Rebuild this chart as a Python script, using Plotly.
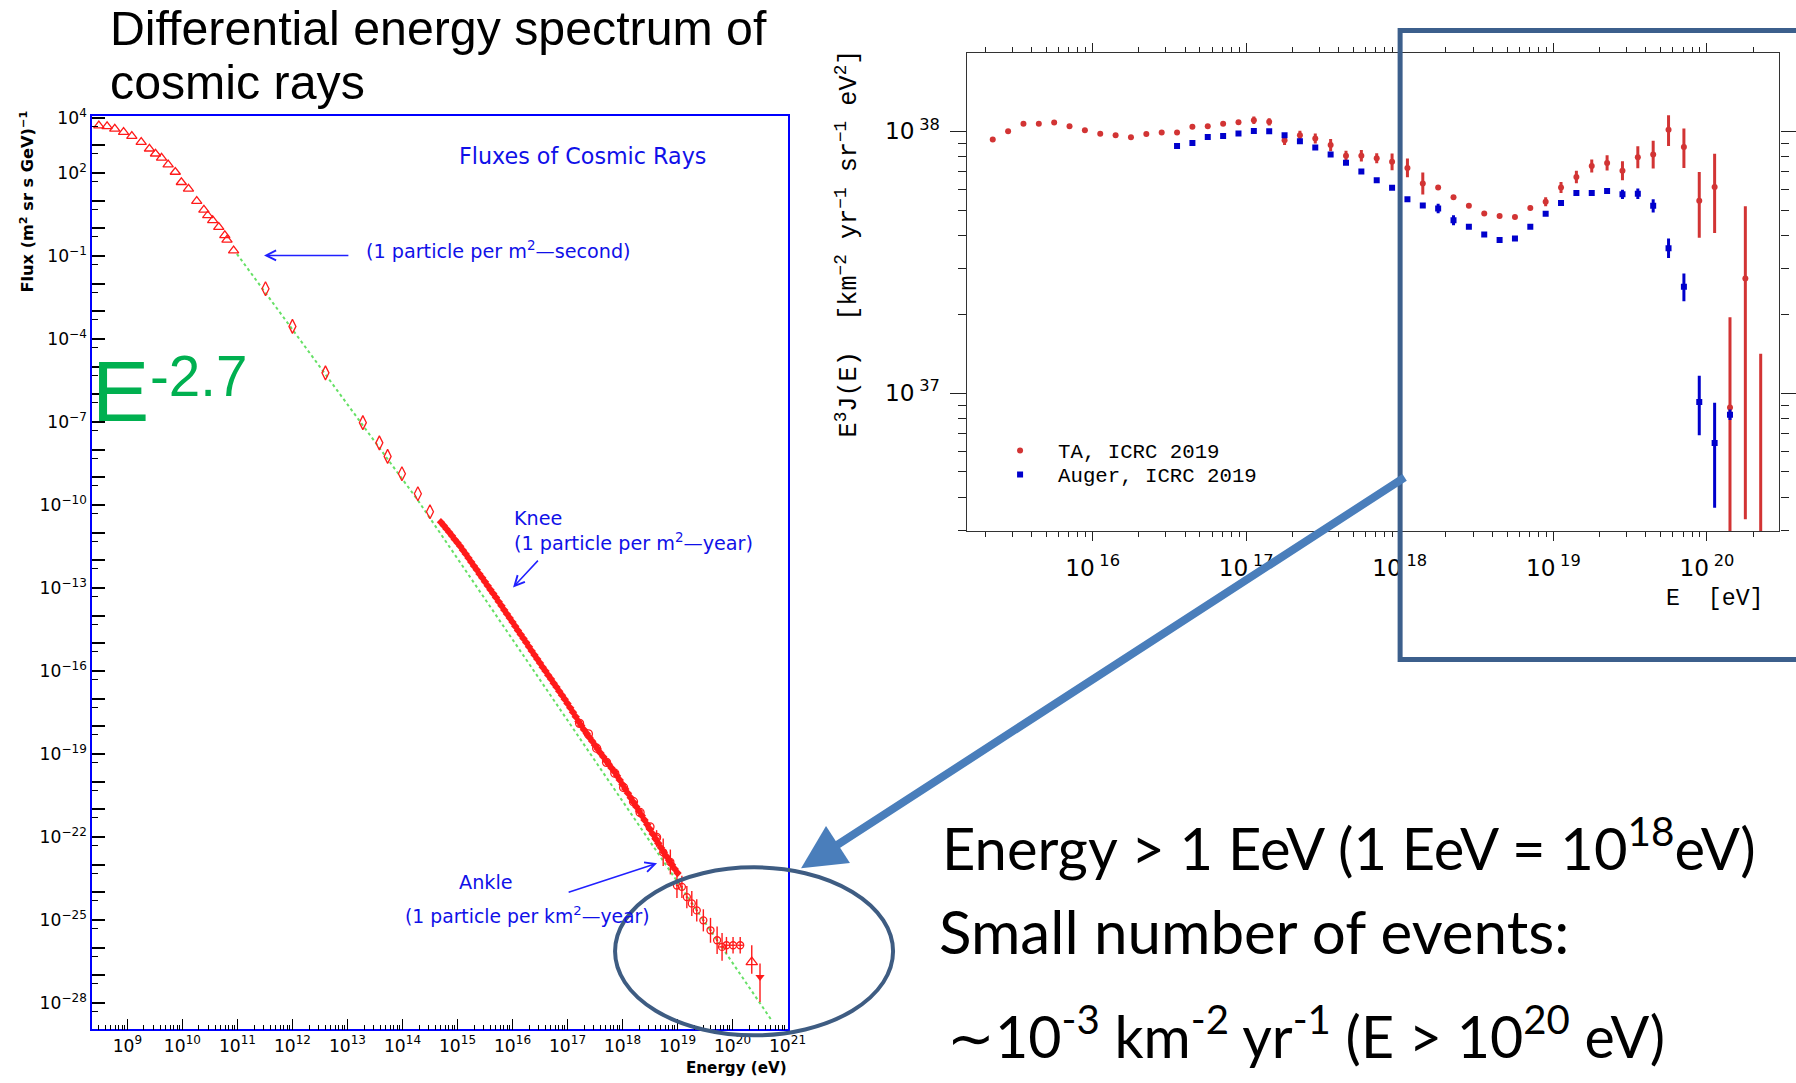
import math
import plotly.graph_objects as go

# figure canvas; the page is photographed slightly scaled (S) and shifted down (OY),
# so target pixel positions are mapped through that to paper coordinates.
FW, FH = 1814, 1083
S, OY = 0.99, 10.5

# ---------------- LEFT CHART DATA (log10 E [eV], log10 flux) ----------------
tri_logE = [8.48, 8.63, 8.77, 8.93, 9.08, 9.25, 9.40, 9.51, 9.62, 9.74, 9.87,
            9.98, 10.11, 10.26, 10.39, 10.46, 10.55, 10.66, 10.77, 10.81, 10.93]
tri_logF = [3.72, 3.69, 3.60, 3.48, 3.34, 3.12, 2.88, 2.70, 2.55, 2.31, 2.04,
            1.67, 1.43, 0.99, 0.67, 0.47, 0.29, 0.05, -0.25, -0.41, -0.80]

dia_logE = [11.51, 12.00, 12.60, 13.28, 13.58, 13.73, 13.99, 14.28, 14.50]
dia_logF = [-2.18, -3.54, -5.22, -7.02, -7.75, -8.24, -8.87, -9.59, -10.24]

trk_logE = [14.70, 14.75, 14.80, 14.85, 14.90, 14.95, 15.00, 15.05, 15.10, 15.15,
            15.20, 15.25, 15.30, 15.35, 15.40, 15.45, 15.50, 15.55, 15.60, 15.65,
            15.70, 15.75, 15.80, 15.85, 15.90, 15.95, 16.00, 16.05, 16.10, 16.15,
            16.20, 16.25, 16.30, 16.35, 16.40, 16.45, 16.50, 16.55, 16.60, 16.65,
            16.70, 16.75, 16.80, 16.85, 16.90, 16.95, 17.00, 17.05, 17.10, 17.15,
            17.20, 17.25, 17.30, 17.35, 17.40, 17.45, 17.50, 17.55, 17.60, 17.65,
            17.70, 17.75, 17.80, 17.85, 17.90, 17.95, 18.00, 18.05, 18.10, 18.15,
            18.20, 18.25, 18.30, 18.35, 18.40, 18.45, 18.50, 18.55, 18.60, 18.65,
            18.70, 18.75, 18.80, 18.85, 18.90, 18.95, 19.00]
trk_logF = [-10.62, -10.74, -10.86, -10.98, -11.11, -11.24, -11.36, -11.49, -11.63, -11.77,
            -11.91, -12.06, -12.20, -12.34, -12.49, -12.63, -12.77, -12.92, -13.06, -13.20,
            -13.34, -13.49, -13.64, -13.79, -13.94, -14.08, -14.23, -14.38, -14.53, -14.68,
            -14.82, -14.97, -15.12, -15.27, -15.42, -15.56, -15.71, -15.86, -16.00, -16.15,
            -16.29, -16.44, -16.58, -16.73, -16.87, -17.02, -17.17, -17.33, -17.49, -17.65,
            -17.82, -17.97, -18.12, -18.26, -18.40, -18.54, -18.68, -18.82, -18.96, -19.10,
            -19.24, -19.37, -19.50, -19.63, -19.78, -19.94, -20.10, -20.26, -20.42, -20.58,
            -20.74, -20.90, -21.06, -21.22, -21.38, -21.55, -21.72, -21.89, -22.06, -22.22,
            -22.39, -22.55, -22.70, -22.85, -23.00, -23.15, -23.30]

oc_logE = [17.22, 17.38, 17.53, 17.71, 17.86, 18.02, 18.20, 18.32, 18.50, 18.62]
oc_logF = [-17.89, -18.27, -18.79, -19.30, -19.69, -20.21, -20.72, -21.11, -21.63, -22.01]

hi_logE = [18.62, 18.74, 18.87, 18.99, 19.08, 19.17, 19.26, 19.35, 19.47, 19.60,
           19.72, 19.81, 19.89, 20.01, 20.14]
hi_logF = [-22.05, -22.55, -22.90, -23.75, -23.80, -24.17, -24.40, -24.65, -25.01, -25.37,
           -25.73, -25.97, -25.91, -25.91, -25.91]
hi_err = [0.30, 0.50, 0.45, 0.45, 0.40, 0.40, 0.45, 0.40, 0.40, 0.45,
          0.50, 0.50, 0.30, 0.30, 0.30]
hi_xerr = [0.02, 0.02, 0.02, 0.02, 0.02, 0.02, 0.02, 0.02, 0.02, 0.02,
           0.02, 0.05, 0.05, 0.05, 0.05]

ot_logE = [20.35]
ot_logF = [-26.52]
ot_up, ot_dn = [0.61], [0.42]
ft_logE = [20.50]
ft_logF = [-27.06]
ft_up, ft_dn = [0.49], [0.90]

fit_logE = [10.99, 14.26, 20.71]
fit_logF = [-0.92, -9.77, -28.62]

x_ticks_left = list(range(9, 22))
y_ticks_left = list(range(-28, 5))
y_labels_left = [4, 2, -1, -4, -7, -10, -13, -16, -19, -22, -25, -28]

# ---------------- RIGHT CHART DATA (log10 E [eV], log10 E^3 J) ----------------
ta_logE = [15.35, 15.45, 15.55, 15.65, 15.75, 15.85, 15.95, 16.05, 16.15, 16.25,
           16.35, 16.45, 16.55, 16.65, 16.75, 16.85, 16.95, 17.05, 17.15, 17.25,
           17.35, 17.45, 17.55, 17.65, 17.75, 17.85, 17.95, 18.05, 18.15, 18.25,
           18.35, 18.45, 18.55, 18.65, 18.75, 18.85, 18.95, 19.05, 19.15, 19.25,
           19.35, 19.45, 19.55, 19.65, 19.75, 19.85, 19.95, 20.05, 20.15, 20.25, 20.35]
ta_logY = [37.968, 38.000, 38.029, 38.029, 38.033, 38.019, 38.004, 37.990, 37.985, 37.977,
           37.989, 37.995, 37.995, 38.017, 38.019, 38.029, 38.034, 38.042, 38.036, 37.966,
           37.985, 37.972, 37.947, 37.906, 37.906, 37.897, 37.883, 37.860, 37.800, 37.785,
           37.748, 37.715, 37.686, 37.676, 37.672, 37.707, 37.731, 37.785, 37.825, 37.867,
           37.879, 37.849, 37.901, 37.911, 38.006, 37.940, 37.735, 37.787, 36.945, 37.438, 36.40]
ta_up = [0, 0, 0, 0, 0, 0, 0, 0, 0, 0,
         0, 0, 0, 0, 0, 0, 0, 0.014, 0.014, 0.019,
         0.017, 0.019, 0.023, 0.019, 0.022, 0.019, 0.032, 0.036, 0.042, 0.008,
         0.006, 0.006, 0.006, 0.006, 0.006, 0.008, 0.017, 0.021, 0.024, 0.025,
         0.029, 0.036, 0.042, 0.053, 0.055, 0.070, 0.109, 0.127, 0.345, 0.276, 0.750]
ta_dn = [0, 0, 0, 0, 0, 0, 0, 0, 0, 0,
         0, 0, 0, 0, 0, 0, 0, 0.014, 0.014, 0.019,
         0.017, 0.019, 0.023, 0.019, 0.022, 0.019, 0.032, 0.036, 0.042, 0.008,
         0.006, 0.006, 0.006, 0.006, 0.006, 0.008, 0.017, 0.021, 0.024, 0.025,
         0.029, 0.036, 0.042, 0.053, 0.062, 0.080, 0.142, 0.176, 0.600, 0.920, 0.100]

au_logE = [16.55, 16.65, 16.75, 16.85, 16.95, 17.05, 17.15, 17.25, 17.35, 17.45,
           17.55, 17.65, 17.75, 17.85, 17.95, 18.05, 18.15, 18.25, 18.35, 18.45,
           18.55, 18.65, 18.75, 18.85, 18.95, 19.05, 19.15, 19.25, 19.35, 19.45,
           19.55, 19.65, 19.75, 19.85, 19.95, 20.05, 20.15]
au_logY = [37.944, 37.955, 37.978, 37.982, 37.991, 38.001, 38.000, 37.985, 37.962, 37.938,
           37.911, 37.880, 37.846, 37.813, 37.784, 37.740, 37.716, 37.705, 37.660, 37.635,
           37.606, 37.585, 37.590, 37.635, 37.685, 37.726, 37.764, 37.764, 37.772, 37.759,
           37.761, 37.715, 37.553, 37.406, 36.966, 36.809, 36.917]
au_up = [0, 0, 0, 0, 0, 0, 0, 0, 0, 0,
         0, 0, 0, 0, 0, 0, 0, 0.018, 0.019, 0.008,
         0.008, 0.008, 0.008, 0.008, 0.008, 0.008, 0.008, 0.008, 0.008, 0.018,
         0.020, 0.025, 0.037, 0.051, 0.100, 0.154, 0.020]
au_dn = [0, 0, 0, 0, 0, 0, 0, 0, 0, 0,
         0, 0, 0, 0, 0, 0, 0, 0.018, 0.019, 0.008,
         0.008, 0.008, 0.008, 0.008, 0.008, 0.008, 0.008, 0.008, 0.008, 0.018,
         0.020, 0.025, 0.037, 0.055, 0.127, 0.247, 0.020]

x_ticks_right = [16, 17, 18, 19, 20]
y_ticks_right = [37, 38]


def lin(v):
    return [10.0 ** a for a in v]


def err_up(v, e):
    return [10.0 ** (a + b) - 10.0 ** a for a, b in zip(v, e)]


def err_dn(v, e):
    return [10.0 ** a - 10.0 ** (a - b) for a, b in zip(v, e)]


def px(x):
    return min(x / S / FW, 1.0)


def py(y):
    return 1 - (y - OY) / S / FH


def fs(size):
    return size / S


RED = "#ff1a1a"
BLUE_TXT = "#1010e8"

fig = go.Figure()

# ---- left chart traces ----
fig.add_trace(go.Scatter(x=lin(fit_logE), y=lin(fit_logF), mode="lines",
                         line=dict(color="#66e066", width=2, dash="dot"),
                         showlegend=False, xaxis="x", yaxis="y"))
fig.add_trace(go.Scatter(x=lin(tri_logE), y=lin(tri_logF), mode="markers",
                         marker=dict(symbol="triangle-up-open", size=9, color=RED,
                                     line=dict(width=1.3, color=RED)),
                         showlegend=False, xaxis="x", yaxis="y"))
fig.add_trace(go.Scatter(x=lin(dia_logE), y=lin(dia_logF), mode="markers",
                         marker=dict(symbol="diamond-tall-open", size=10, color=RED,
                                     line=dict(width=1.3, color=RED)),
                         showlegend=False, xaxis="x", yaxis="y"))
fig.add_trace(go.Scatter(x=lin(trk_logE), y=lin(trk_logF), mode="markers",
                         marker=dict(symbol="diamond", size=6.5, color=RED),
                         showlegend=False, xaxis="x", yaxis="y"))
fig.add_trace(go.Scatter(x=lin(oc_logE), y=lin(oc_logF), mode="markers",
                         marker=dict(symbol="circle-open", size=8, color=RED,
                                     line=dict(width=1.3, color=RED)),
                         showlegend=False, xaxis="x", yaxis="y"))
fig.add_trace(go.Scatter(x=lin(hi_logE), y=lin(hi_logF), mode="markers",
                         marker=dict(symbol="circle-open", size=7, color=RED,
                                     line=dict(width=1.3, color=RED)),
                         error_y=dict(type="data", array=err_up(hi_logF, hi_err),
                                      arrayminus=err_dn(hi_logF, hi_err),
                                      color=RED, thickness=1.4, width=0),
                         error_x=dict(type="data", array=err_up(hi_logE, hi_xerr),
                                      arrayminus=err_dn(hi_logE, hi_xerr),
                                      color=RED, thickness=1.4, width=0),
                         showlegend=False, xaxis="x", yaxis="y"))
fig.add_trace(go.Scatter(x=lin(ot_logE), y=lin(ot_logF), mode="markers",
                         marker=dict(symbol="triangle-up-open", size=10, color=RED,
                                     line=dict(width=1.3, color=RED)),
                         error_y=dict(type="data", array=err_up(ot_logF, ot_up),
                                      arrayminus=err_dn(ot_logF, ot_dn),
                                      color=RED, thickness=1.4, width=0),
                         showlegend=False, xaxis="x", yaxis="y"))
fig.add_trace(go.Scatter(x=lin(ft_logE), y=lin(ft_logF), mode="markers",
                         marker=dict(symbol="triangle-down", size=8, color=RED),
                         error_y=dict(type="data", array=err_up(ft_logF, ft_up),
                                      arrayminus=err_dn(ft_logF, ft_dn),
                                      color=RED, thickness=1.4, width=0),
                         showlegend=False, xaxis="x", yaxis="y"))

# ---- right chart traces ----
TA_C = "#d23434"
AU_C = "#0000cc"
fig.add_trace(go.Scatter(x=lin(ta_logE), y=lin(ta_logY), mode="markers", name="TA, ICRC 2019",
                         marker=dict(symbol="circle", size=6, color=TA_C),
                         error_y=dict(type="data", array=err_up(ta_logY, ta_up),
                                      arrayminus=err_dn(ta_logY, ta_dn),
                                      color=TA_C, thickness=3, width=0),
                         xaxis="x2", yaxis="y2", legend="legend"))
fig.add_trace(go.Scatter(x=lin(au_logE), y=lin(au_logY), mode="markers", name="Auger, ICRC 2019",
                         marker=dict(symbol="square", size=6, color=AU_C),
                         error_y=dict(type="data", array=err_up(au_logY, au_up),
                                      arrayminus=err_dn(au_logY, au_dn),
                                      color=AU_C, thickness=3, width=0),
                         xaxis="x2", yaxis="y2", legend="legend2"))

# ---- axes ----
minor_left_x = [m * 10.0 ** d for d in range(8, 21) for m in range(2, 10)
                if 8.356 < d + math.log10(m) < 21.01]
minor_left_y = [5 * 10.0 ** d for d in range(-29, 4)]
minor_right_x = [m * 10.0 ** d for d in range(15, 21) for m in range(2, 10)
                 if 15.181 < d + math.log10(m) < 20.472]
minor_right_y = [m * 10.0 ** d for d in range(36, 39) for m in range(2, 10)
                 if 36.473 < d + math.log10(m) < 38.298]

tickfont_l = dict(family="DejaVu Sans", size=fs(17), color="black")
tickfont_r = dict(family="DejaVu Sans", size=fs(23), color="black")
legfont = dict(family="Liberation Mono", size=fs(20.5), color="black")

fig.update_layout(
    width=FW, height=FH, autosize=False,
    margin=dict(l=0, r=0, t=0, b=0, pad=0),
    paper_bgcolor="white", plot_bgcolor="white",
    xaxis=dict(type="log", range=[8.356, 21.01], domain=[px(92), px(788)], anchor="y",
               tickvals=[10.0 ** k for k in x_ticks_left],
               ticktext=["10<sup>%d</sup>" % k for k in x_ticks_left],
               ticks="inside", ticklen=11, tickwidth=1.3, tickcolor="black",
               minor=dict(tickvals=minor_left_x, ticks="inside", ticklen=5,
                          tickwidth=1, tickcolor="black", showgrid=False),
               showline=True, linecolor="#0000ff", linewidth=1.5, mirror=True,
               showgrid=False, zeroline=False, tickfont=tickfont_l),
    yaxis=dict(type="log", range=[-28.95, 4.058], domain=[py(1029), py(115.7)], anchor="x",
               tickvals=[10.0 ** k for k in y_ticks_left],
               ticktext=[("10<sup>%s</sup>" % str(k).replace("-", "\u2212")) if k in y_labels_left else ""
                         for k in y_ticks_left],
               ticks="inside", ticklen=13, tickwidth=1.5, tickcolor="black",
               minor=dict(tickvals=minor_left_y, ticks="inside", ticklen=6,
                          tickwidth=1.3, tickcolor="black", showgrid=False),
               showline=True, linecolor="#0000ff", linewidth=1.5, mirror=True,
               showgrid=False, zeroline=False, tickfont=tickfont_l),
    xaxis2=dict(type="log", range=[15.181, 20.472], domain=[px(966.7), px(1779.3)], anchor="y2",
                tickvals=[10.0 ** k for k in x_ticks_right],
                ticktext=["10\u2009<sup>%d</sup>" % k for k in x_ticks_right],
                ticks="outside", ticklen=9, tickwidth=1.3, tickcolor="#222",
                minor=dict(tickvals=minor_right_x, ticks="outside", ticklen=5,
                           tickwidth=1.2, tickcolor="#222", showgrid=False),
                showline=True, linecolor="#333", linewidth=1.3, mirror="ticks",
                showgrid=False, zeroline=False, tickfont=tickfont_r, ticklabelstandoff=7),
    yaxis2=dict(type="log", range=[36.473, 38.298], domain=[py(530.7), py(52.7)], anchor="x2",
                tickvals=[10.0 ** k for k in y_ticks_right],
                ticktext=["10\u2009<sup>%d</sup>" % k for k in y_ticks_right],
                ticks="outside", ticklen=16, tickwidth=1.3, tickcolor="#222",
                minor=dict(tickvals=minor_right_y, ticks="outside", ticklen=8,
                           tickwidth=1.2, tickcolor="#222", showgrid=False),
                showline=True, linecolor="#333", linewidth=1.3, mirror="ticks",
                showgrid=False, zeroline=False, tickfont=tickfont_r, ticklabelstandoff=5),
    legend=dict(x=px(982), y=py(430), xanchor="left", yanchor="top", font=legfont,
                itemwidth=66, bgcolor="rgba(0,0,0,0)", borderwidth=0),
    legend2=dict(x=px(982), y=py(454), xanchor="left", yanchor="top", font=legfont,
                 itemwidth=66, bgcolor="rgba(0,0,0,0)", borderwidth=0),
    showlegend=True,
)

ann = []


def txt(x, y, text, size, family, color="black", xanchor="left", yanchor="middle", angle=0):
    ann.append(dict(x=px(x), y=py(y), xref="paper", yref="paper", text=text, showarrow=False,
                    xanchor=xanchor, yanchor=yanchor, textangle=angle,
                    font=dict(family=family, size=fs(size), color=color)))


def arrow(tipx, tipy, tailx, taily, color, width, head, size):
    ann.append(dict(x=px(tipx), y=py(tipy), xref="paper", yref="paper", text="",
                    showarrow=True, ax=(tailx - tipx) / S, ay=(taily - tipy) / S,
                    arrowcolor=color, arrowwidth=width, arrowhead=head, arrowsize=size,
                    standoff=0, startstandoff=0))


# title
txt(108, 28, "Differential energy spectrum of", 47.8, "Liberation Sans")
txt(108, 82, "cosmic rays", 47.8, "Liberation Sans")
# left chart texts
txt(582, 156, "Fluxes of Cosmic Rays", 22, "DejaVu Sans", BLUE_TXT, xanchor="center")
txt(364, 250, "(1 particle per m<sup>2</sup>\u2014second)", 19, "DejaVu Sans", BLUE_TXT)
txt(512, 518, "Knee", 19, "DejaVu Sans", BLUE_TXT)
txt(512, 542, "(1 particle per m<sup>2</sup>\u2014year)", 19, "DejaVu Sans", BLUE_TXT)
txt(457, 882, "Ankle", 19, "DejaVu Sans", BLUE_TXT)
txt(403, 915, "(1 particle per km<sup>2</sup>\u2014year)", 18.6, "DejaVu Sans", BLUE_TXT)
txt(90, 391, "E", 85, "Liberation Sans", "#00b050")
txt(148, 376, "-2.7", 56, "Liberation Sans", "#00b050")
txt(27, 201, "<b>Flux (m<sup>2</sup> sr s GeV)<sup>\u22121</sup></b>", 16, "DejaVu Sans",
    xanchor="center", angle=-90)
txt(736, 1068, "<b>Energy (eV)</b>", 15, "DejaVu Sans", xanchor="center")
# right chart texts
txt(848, 243, "E<sup>3</sup>J(E)\u00a0\u00a0[km<sup>\u22122</sup>\u00a0yr<sup>\u22121</sup>\u00a0sr<sup>\u22121</sup>\u00a0eV<sup>2</sup>]",
    25, "Liberation Mono", xanchor="center", angle=-90)
txt(1766, 599, "E\u00a0\u00a0[eV]", 23, "Liberation Mono", xanchor="right")
# text block
txt(940, 844, "Energy > 1 EeV (1 EeV = 10<sup>18</sup>eV)", 57.3, "Lato")
txt(937, 931, "Small number of events:", 59.5, "Lato")
txt(945, 1032, "\u223c10<sup>-3</sup> km<sup>-2</sup> yr<sup>-1</sup> (E > 10<sup>20</sup> eV)", 56.8, "Lato")

# arrows
arrow(264, 255, 349, 255, "#2020ff", 1.5, 5, 1.3)
arrow(513, 587, 539, 559, "#2020ff", 1.5, 5, 1.3)
arrow(657, 863, 568, 892, "#2020ff", 1.5, 5, 1.3)
arrow(801, 868, 1400, 480, "#4a7ebb", 8, 2, 1.1)

fig.update_layout(annotations=ann)

# zoom frame: open on the right, running to the picture edge
frame_path = "M 1,{t} L {l},{t} L {l},{b} L 1,{b}".format(t=py(30), l=px(1400), b=py(659))
fig.update_layout(shapes=[
    dict(type="circle", xref="paper", yref="paper", x0=px(615), x1=px(893), y0=py(1035), y1=py(867),
         line=dict(color="#3e5c82", width=4)),
    dict(type="path", xref="paper", yref="paper", path=frame_path,
         line=dict(color="#3c5f8c", width=5)),
])

fig.write_html("out.html")
